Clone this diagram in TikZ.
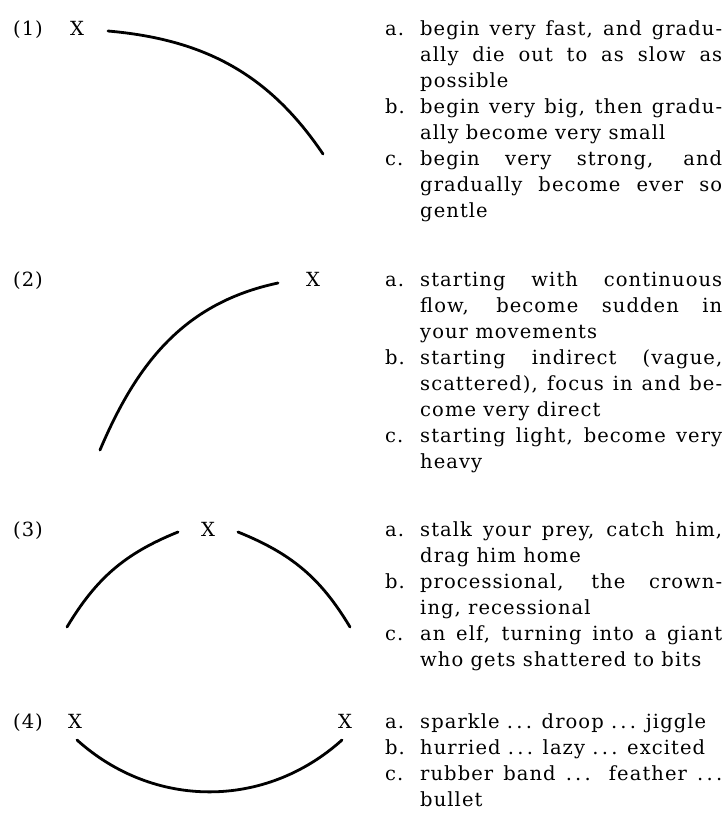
\documentclass[tikz,border=0pt]{standalone}
\usepackage{fontspec}
\setmainfont{DejaVu Serif}[LetterSpace=5.5]
\usepackage{tikz}

\newcommand{\cueitem}[2]{\hyphenpenalty=10000 \tolerance=9999 \hangindent=35pt \hangafter=1 \noindent\makebox[35pt][l]{\strut#1.}#2\par}

\begin{document}
\begin{tikzpicture}[x=1pt,y=1pt]
  \tikzset{tag/.style = {font=\fontsize{19.5}{26}\selectfont, inner sep=0pt, anchor=base}}
  \tikzset{cues/.style = {font=\fontsize{19.5}{26}\selectfont, inner sep=0pt, anchor=north west, text width=337pt, align=justify}}
  \tikzset{curve/.style = {line width=2.8pt, line cap=round}}
  \useasboundingbox (0,0) rectangle (722,-817);

  % numbers
  \foreach \n/\y in {1/35,2/286,3/536,4/728}
  {
    \node[tag] (n\n) at (28,-\y) {(\n)};
  }

  % marks
  \node[tag] (x1) at (77,-35) {X};
  \node[tag] (x2) at (313,-286) {X};
  \node[tag] (x3) at (208,-536) {X};
  \node[tag] (x4a) at (75,-728) {X};
  \node[tag] (x4b) at (345,-728) {X};

  % curve ends
  \coordinate (s1) at (108,-31);  \coordinate (e1) at (323,-154);
  \coordinate (s2) at (278,-283); \coordinate (e2) at (100,-450);
  \coordinate (s3a) at (178,-532); \coordinate (e3a) at (67,-627);
  \coordinate (s3b) at (238,-532); \coordinate (e3b) at (350,-627);
  \coordinate (s4a) at (77,-740); \coordinate (s4b) at (342,-740);

  % curves
  \draw[curve] (s1) to[out=-5,in=124] (e1);
  \draw[curve] (s2) to[out=192,in=67] (e2);
  \draw[curve] (s3a) to[out=202,in=59] (e3a);
  \draw[curve] (s3b) to[out=-22,in=121] (e3b);
  \draw[curve] (s4a) to[out=-42,in=222] (s4b);

  % cues
  \node[cues] (t1) at (385,-16.8) {%
    \cueitem{a}{begin very fast, and gradu-\linebreak ally die out to as slow as\linebreak possible}
    \cueitem{b}{begin very big, then gradu-\linebreak ally become very small}
    \cueitem{c}{begin very strong, and\linebreak gradually become ever so\linebreak gentle}};
  \node[cues] (t2) at (385,-267.8) {%
    \cueitem{a}{starting with continuous\linebreak flow, become sudden in\linebreak your movements}
    \cueitem{b}{starting indirect (vague,\linebreak scattered), focus in and be-\linebreak come very direct}
    \cueitem{c}{starting light, become very\linebreak heavy}};
  \node[cues] (t3) at (385,-517.8) {%
    \cueitem{a}{stalk your prey, catch him,\linebreak drag him home}
    \cueitem{b}{processional, the crown-\linebreak ing, recessional}
    \cueitem{c}{an elf, turning into a giant\linebreak who gets shattered to bits}};
  \node[cues] (t4) at (385,-709.8) {%
    \cueitem{a}{sparkle .\,.\,. droop .\,.\,. jiggle}
    \cueitem{b}{hurried .\,.\,. lazy .\,.\,. excited}
    \cueitem{c}{rubber band .\,.\,. feather .\,.\,.\linebreak bullet}};
\end{tikzpicture}
\end{document}
